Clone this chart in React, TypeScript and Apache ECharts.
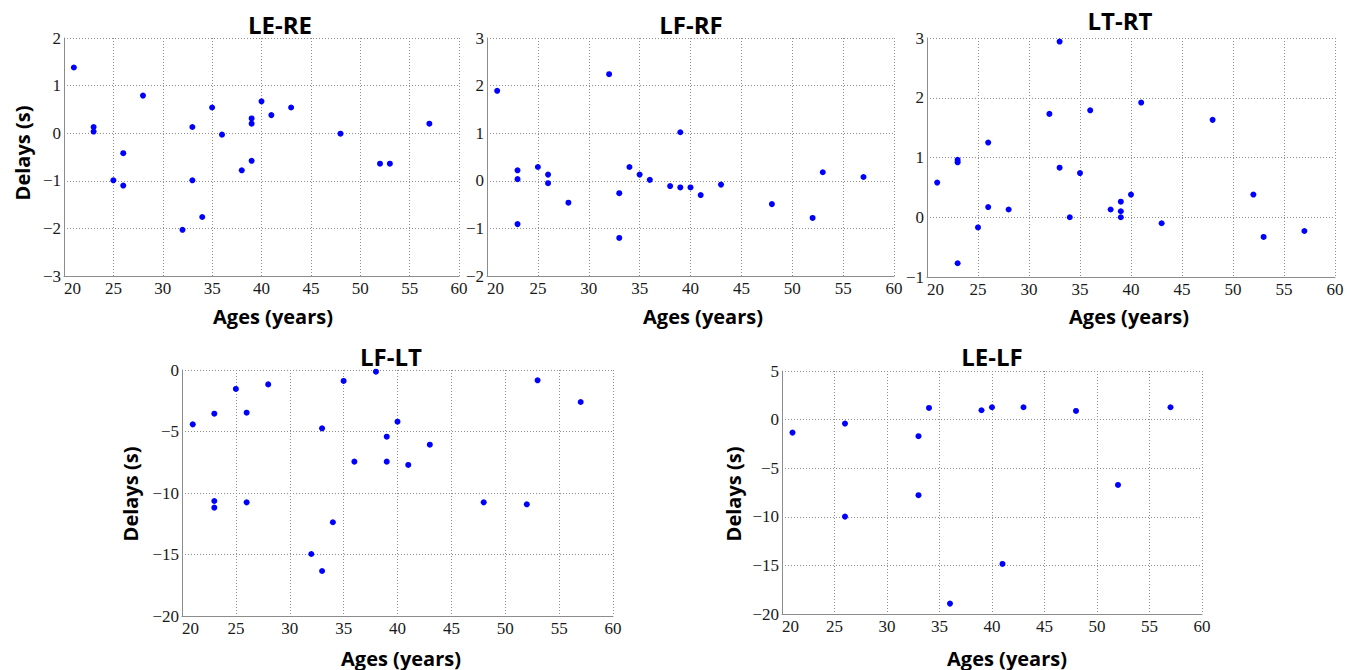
import React, { useEffect, useRef } from "react";
import * as echarts from "echarts";

// Subject ages (years) and measured delays (s) for each electrode pair
const leReAges = [21, 23, 23, 25, 26, 26, 28, 32, 33, 33, 34, 35, 36, 38, 39, 39, 39, 40, 41, 43, 48, 52, 53, 57];
const leReDelays = [1.38, 0.13, 0.035, -0.99, -0.42, -1.1, 0.79, -2.03, 0.13, -0.99, -1.76, 0.54, -0.03, -0.78, 0.31, 0.2, -0.58, 0.67, 0.38, 0.54, -0.01, -0.64, -0.64, 0.2];

const lfRfAges = [21, 23, 23, 23, 25, 26, 26, 28, 32, 33, 33, 34, 35, 36, 38, 39, 39, 40, 41, 43, 48, 52, 53, 57];
const lfRfDelays = [1.89, 0.22, 0.035, -0.91, 0.29, 0.13, -0.05, -0.46, 2.24, -0.26, -1.2, 0.29, 0.13, 0.02, -0.11, 1.02, -0.14, -0.14, -0.3, -0.08, -0.49, -0.78, 0.18, 0.08];

const ltRtAges = [21, 23, 23, 23, 25, 26, 26, 28, 32, 33, 33, 34, 35, 36, 38, 39, 39, 39, 40, 41, 43, 48, 52, 53, 57];
const ltRtDelays = [0.58, 0.96, 0.92, -0.77, -0.17, 1.25, 0.17, 0.13, 1.73, 2.94, 0.83, 0.0, 0.74, 1.79, 0.13, 0.26, 0.1, 0.0, 0.38, 1.92, -0.1, 1.63, 0.38, -0.33, -0.23];

const lfLtAges = [21, 23, 23, 23, 25, 26, 26, 28, 32, 33, 33, 34, 35, 36, 38, 39, 39, 40, 41, 43, 48, 52, 53, 57];
const lfLtDelays = [-4.42, -3.55, -10.65, -11.19, -1.54, -3.47, -10.76, -1.17, -14.96, -4.74, -16.34, -12.38, -0.89, -7.45, -0.14, -5.42, -7.45, -4.2, -7.72, -6.07, -10.76, -10.92, -0.84, -2.6];

const leLfAges = [21, 26, 26, 33, 33, 34, 36, 39, 40, 41, 43, 48, 52, 57];
const leLfDelays = [-1.34, -0.41, -9.98, -1.71, -7.78, 1.2, -18.93, 0.96, 1.27, -14.85, 1.27, 0.89, -6.72, 1.27];

// Panel titles and y-axis ranges
const panelTitles = ["LE-RE", "LF-RF", "LT-RT", "LF-LT", "LE-LF"];
const yMins = [-3, -2, -1, -20, -20];
const yMaxs = [2, 3, 3, 0, 5];
const yIntervals = [1, 1, 1, 5, 5];
const xMin = 20;
const xMax = 60;
const xInterval = 5;

const xName = "Ages (years)";
const yName = "Delays (s)";

// Layout of the five plot boxes (pixels)
const grids = [
  { left: 64, top: 38, width: 395, height: 238 },
  { left: 487, top: 38, width: 407, height: 238 },
  { left: 927, top: 38, width: 408, height: 239 },
  { left: 182, top: 370, width: 431, height: 246 },
  { left: 782, top: 371, width: 420, height: 243 },
];
const titlePos = [
  [280, 24],
  [691, 24],
  [1120, 20],
  [391, 356],
  [992, 356],
];
const xNamePos = [
  [273, 316],
  [703, 316],
  [1129, 316],
  [401, 658],
  [1007, 658],
];
const yNamePos: (number[] | null)[] = [[22, 153], null, null, [130, 494], [733, 494]];

const seriesData = [
  [leReAges, leReDelays],
  [lfRfAges, lfRfDelays],
  [ltRtAges, ltRtDelays],
  [lfLtAges, lfLtDelays],
  [leLfAges, leLfDelays],
];

const tickFont = {
  fontFamily: "Liberation Serif, Times New Roman, serif",
  fontSize: 17,
  color: "#1a1a1a",
};
const labelFont = "'Open Sans', 'Noto Sans', sans-serif";
const minusFmt = (v: number) => (v < 0 ? "\u2212" + Math.abs(v) : String(v));

export default function App() {
  const ref = useRef<HTMLDivElement>(null);

  useEffect(() => {
    if (!ref.current) return;
    const chart = echarts.init(ref.current, undefined, { renderer: "svg" });

    const gridLine = { show: true, lineStyle: { color: "#8f8f8f", type: [1, 2] as any, width: 1 } };
    const axisLine = { show: true, onZero: false, lineStyle: { color: "#8c8c8c", width: 1 } };

    const graphic: any[] = [];
    panelTitles.forEach((t, i) => {
      graphic.push({
        type: "text",
        x: titlePos[i][0],
        y: titlePos[i][1],
        style: { text: t, font: `bold 24px ${labelFont}`, fill: "#000", textAlign: "center", textVerticalAlign: "middle" },
      });
      graphic.push({
        type: "text",
        x: xNamePos[i][0],
        y: xNamePos[i][1],
        style: { text: xName, font: `bold 20px ${labelFont}`, fill: "#000", textAlign: "center", textVerticalAlign: "middle" },
      });
      const yp = yNamePos[i];
      if (yp) {
        graphic.push({
          type: "text",
          x: yp[0],
          y: yp[1],
          rotation: Math.PI / 2,
          style: { text: yName, font: `bold 20px ${labelFont}`, fill: "#000", textAlign: "center", textVerticalAlign: "middle" },
        });
      }
    });

    chart.setOption({
      animation: false,
      backgroundColor: "#ffffff",
      grid: grids.map((g) => ({ ...g, containLabel: false })),
      xAxis: grids.map((_, i) => ({
        type: "value",
        gridIndex: i,
        min: xMin,
        max: xMax,
        interval: xInterval,
        axisLine,
        axisTick: { show: false },
        axisLabel: { ...tickFont, margin: 4, alignMinLabel: "left" },
        splitLine: gridLine,
      })),
      yAxis: grids.map((_, i) => ({
        type: "value",
        gridIndex: i,
        min: yMins[i],
        max: yMaxs[i],
        interval: yIntervals[i],
        axisLine,
        axisTick: { show: false },
        axisLabel: { ...tickFont, margin: 3, formatter: minusFmt },
        splitLine: gridLine,
      })),
      series: seriesData.map(([ages, delays], i) => ({
        type: "scatter",
        xAxisIndex: i,
        yAxisIndex: i,
        symbol: "circle",
        symbolSize: 6,
        itemStyle: { color: "#0000ff", opacity: 1 },
        data: ages.map((a, k) => [a, delays[k]]),
      })),
      graphic,
    });

    return () => chart.dispose();
  }, []);

  return (
    <div
      ref={ref}
      style={{ position: "fixed", left: 0, top: 0, width: 1351, height: 670, background: "#fff" }}
    />
  );
}
